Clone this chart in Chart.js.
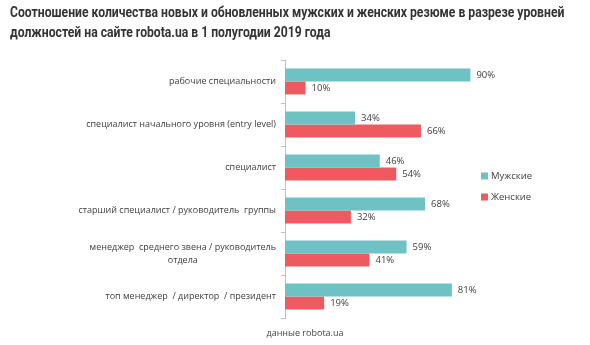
<!DOCTYPE html>
<html>
<head>
<meta charset="utf-8">
<script src="https://cdn.jsdelivr.net/npm/chart.js@4.4.1/dist/chart.umd.min.js"></script>
<style>
  html, body { margin: 0; padding: 0; background: #fff; }
  #wrap { position: relative; width: 590px; height: 345px; overflow: hidden; }
  #title {
    position: absolute; left: 10px; top: 2px; white-space: nowrap;
    font-family: Roboto, sans-serif; font-weight: 700; font-size: 14px;
    line-height: 20px; color: #333;
    transform: scaleX(0.87); transform-origin: left top;
  }
  #source {
    position: absolute; left: 5px; width: 600px; top: 326px; text-align: center;
    font-family: "Open Sans", sans-serif; font-size: 9px; color: #444;
  }
  canvas { position: absolute; left: 0; top: 0; }
</style>
</head>
<body>
<div id="wrap">
  <canvas id="levelsChart" width="590" height="345"></canvas>
  <div id="title">Соотношение количества новых и обновленных мужских и женских резюме в разрезе уровней<br>должностей на сайте robota.ua в 1 полугодии 2019 года</div>
  <div id="source">данные robota.ua</div>
</div>
<script>
// Position levels and shares of resumes, %
const levels = [
  ['рабочие специальности'],
  ['специалист начального уровня (entry level)'],
  ['специалист'],
  ['старший специалист / руководитель  группы'],
  ['менеджер  среднего звена / руководитель', 'отдела'],
  ['топ менеджер  / директор  / президент']
];
const menShare = [90, 34, 46, 68, 59, 81];
const womenShare = [10, 66, 54, 32, 41, 19];

const seriesNames = ['Мужские', 'Женские'];
const seriesColors = ['#6fc2c4', '#ef5a60'];

const labelFont = '9px "Open Sans", sans-serif';
const valueFont = '9.5px "Open Sans", sans-serif';
const textColor = '#404040';

// Category labels on the left, right-aligned, extra lines centered under the first
const levelLabels = {
  id: 'levelLabels',
  afterDraw(chart) {
    const ctx = chart.ctx;
    const yScale = chart.scales.y;
    const right = chart.chartArea.left - 9;
    ctx.save();
    ctx.font = labelFont;
    ctx.fillStyle = textColor;
    ctx.textAlign = 'center';
    ctx.textBaseline = 'middle';
    levels.forEach((lines, i) => {
      const widest = Math.max(...lines.map(l => ctx.measureText(l).width));
      const cx = right - widest / 2;
      const yc = yScale.getPixelForValue(i);
      const lh = 13;
      const top = yc - (lines.length - 1) * lh / 2;
      lines.forEach((l, k) => ctx.fillText(l, cx, top + k * lh));
    });
    ctx.restore();
  }
};

// Percent labels after each bar
const valueLabels = {
  id: 'valueLabels',
  afterDatasetsDraw(chart) {
    const ctx = chart.ctx;
    ctx.save();
    ctx.font = valueFont;
    ctx.fillStyle = textColor;
    ctx.textAlign = 'left';
    ctx.textBaseline = 'middle';
    chart.data.datasets.forEach((ds, di) => {
      chart.getDatasetMeta(di).data.forEach((bar, i) => {
        ctx.fillText(ds.data[i] + '%', bar.x + 6, bar.y);
      });
    });
    ctx.restore();
  }
};

// Legend on the right side of the plot
const sideLegend = {
  id: 'sideLegend',
  afterDraw(chart) {
    const ctx = chart.ctx;
    ctx.save();
    ctx.font = valueFont;
    ctx.textBaseline = 'middle';
    chart.data.datasets.forEach((ds, i) => {
      const y = 176 + i * 21;
      ctx.fillStyle = ds.backgroundColor;
      ctx.fillRect(481, y - 3.5, 7, 7);
      ctx.fillStyle = textColor;
      ctx.fillText(ds.label, 491, y);
    });
    ctx.restore();
  }
};

new Chart(document.getElementById('levelsChart'), {
  type: 'bar',
  data: {
    labels: levels.map(l => l.join(' ')),
    datasets: [
      { label: seriesNames[0], data: menShare, backgroundColor: seriesColors[0] },
      { label: seriesNames[1], data: womenShare, backgroundColor: seriesColors[1] }
    ]
  },
  options: {
    indexAxis: 'y',
    responsive: false,
    animation: false,
    layout: { padding: { left: 281, right: 99, top: 60, bottom: 27 } },
    datasets: {
      bar: { categoryPercentage: 0.6, barPercentage: 1.0 }
    },
    scales: {
      x: { display: false, min: 0, max: 100 },
      y: {
        grid: { drawOnChartArea: false, tickLength: 4, color: '#bfbfbf' },
        border: { color: '#bfbfbf' },
        ticks: { display: false }
      }
    },
    plugins: {
      legend: { display: false },
      tooltip: { enabled: false }
    }
  },
  plugins: [levelLabels, valueLabels, sideLegend]
});
</script>
</body>
</html>
